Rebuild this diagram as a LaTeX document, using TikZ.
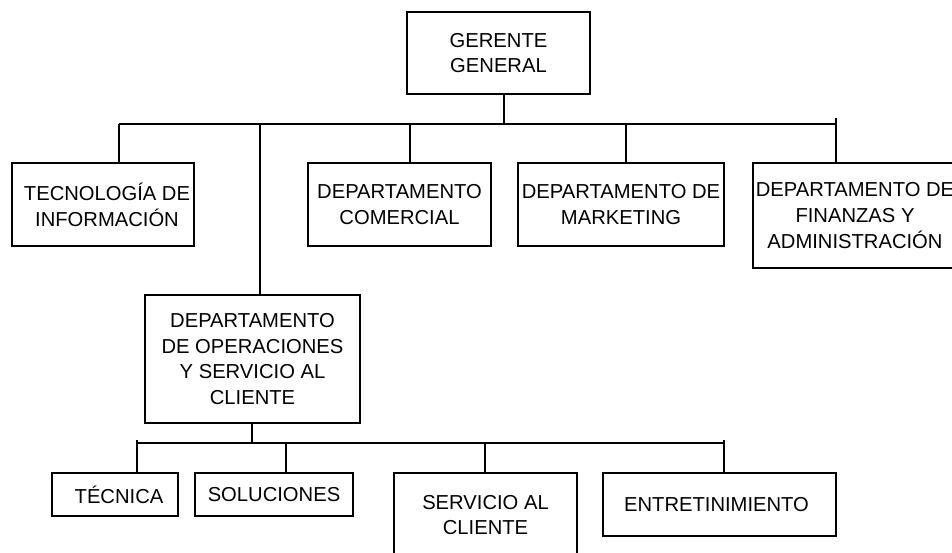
\documentclass[tikz,border=0pt]{standalone}
\usepackage{fontspec}
\setmainfont{Liberation Sans}
\begin{document}
\begin{tikzpicture}[x=1pt,y=-1pt,
  box/.style={draw, line width=1.8pt, align=center, inner sep=0pt,
    font=\fontsize{20.2}{25.7}\selectfont},
  link/.style={line width=1.8pt}]
\useasboundingbox (0,0) rectangle (952,552);
\clip (0,0) rectangle (952,552);
\fill[white] (0,0) rectangle (952,552);
% boxes
\node[box, minimum width=183pt, minimum height=82pt] (gg) at (498.5,53) {GERENTE\\GENERAL};
\node[box, minimum width=182pt, minimum height=83pt] (ti) at (103,204.5) {\hspace*{8pt}TECNOLOGÍA DE\\\hspace*{8pt}INFORMACIÓN};
\node[box, minimum width=183pt, minimum height=83pt] (com) at (399.5,204.5) {DEPARTAMENTO\\COMERCIAL};
\node[box, minimum width=206pt, minimum height=83pt] (mkt) at (621,204.5) {DEPARTAMENTO DE\\MARKETING};
\node[box, minimum width=204pt, minimum height=105pt] (fin) at (855,215.5) {DEPARTAMENTO DE\\FINANZAS Y\\ADMINISTRACIÓN};
\node[box, minimum width=215pt, minimum height=128pt] (ops) at (252.5,359) {DEPARTAMENTO\\DE OPERACIONES\\Y SERVICIO AL\\CLIENTE};
\node[box, minimum width=126pt, minimum height=43pt] (tec) at (115,494.5) {\hspace*{8pt}TÉCNICA};
\node[box, minimum width=158pt, minimum height=43pt] (sol) at (274,494.5) {SOLUCIONES};
\node[box, minimum width=183pt, minimum height=84pt] (srv) at (485.5,515) {SERVICIO AL\\CLIENTE};
\node[box, minimum width=233pt, minimum height=63pt] (ent) at (719.5,504.5) {ENTRETINIMIENTO\hspace*{6pt}};
% top bus
\coordinate (b1l) at (119,124);
\coordinate (b1r) at (836,124);
\coordinate (b1s) at (504,124);
\coordinate (b1o) at (260,124);
\coordinate (b1c) at (410,124);
\coordinate (b1m) at (626,124);
\coordinate (b1rt) at (836,118);
\draw[link] (b1l) -- (b1r);
\draw[link] (b1s) -- (b1s |- gg.south);
\draw[link] (b1l) -- (b1l |- ti.north);
\draw[link] (b1o) -- (b1o |- ops.north);
\draw[link] (b1c) -- (b1c |- com.north);
\draw[link] (b1m) -- (b1m |- mkt.north);
\draw[link] (b1rt) -- (b1rt |- fin.north);
% bottom bus
\coordinate (b2l) at (137,443);
\coordinate (b2r) at (724,443);
\coordinate (b2s) at (252,443);
\coordinate (b2so) at (286,443);
\coordinate (b2sv) at (485,443);
\coordinate (b2lt) at (137,440);
\coordinate (b2rt) at (724,440);
\draw[link] (b2l) -- (b2r);
\draw[link] (b2s) -- (b2s |- ops.south);
\draw[link] (b2lt) -- (b2lt |- tec.north);
\draw[link] (b2so) -- (b2so |- sol.north);
\draw[link] (b2sv) -- (b2sv |- srv.north);
\draw[link] (b2rt) -- (b2rt |- ent.north);
\end{tikzpicture}
\end{document}
